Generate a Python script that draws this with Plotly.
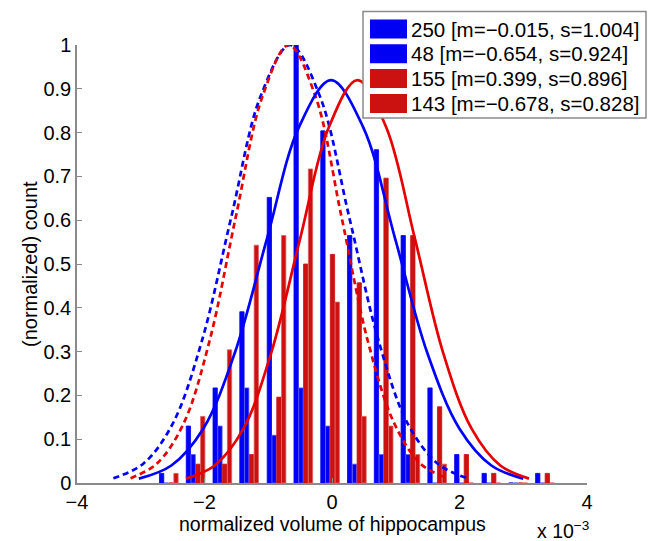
import plotly.graph_objects as go

# ---------------- data (x in units of 1e-3) ----------------
bin_centers = [-2.56, -2.14, -1.72, -1.30, -0.87, -0.45, -0.03, 0.39, 0.81, 1.23, 1.65, 2.07, 2.50, 2.92, 3.34]
h_250 = [0.022, 0.130, 0.217, 0.391, 0.652, 1.000, 0.804, 0.565, 0.761, 0.565, 0.217, 0.065, 0.022, 0.0, 0.022]
h_48 = [0.0, 0.065, 0.130, 0.217, 0.109, 0.217, 0.130, 0.043, 0.065, 0.065, 0.0, 0.0, 0.0, 0.0, 0.0]
h_155 = [0.0, 0.043, 0.043, 0.065, 0.196, 0.500, 0.522, 0.457, 0.696, 0.565, 0.174, 0.065, 0.022, 0.0, 0.022]
h_143 = [0.022, 0.152, 0.304, 0.543, 0.565, 0.717, 0.413, 0.152, 0.130, 0.065, 0.043, 0.0, 0.0, 0.0, 0.0]

# fitted curves
fit250_x = [-3.03, -2.52, -2.02, -1.52, -1.02, -0.52, -0.015, 0.49, 0.99, 1.49, 2.00, 2.50, 3.00]
fit250_y = [0.010, 0.040, 0.124, 0.299, 0.558, 0.812, 0.920, 0.812, 0.558, 0.299, 0.124, 0.040, 0.010]
fit48_x = [-3.43, -2.96, -2.50, -2.04, -1.58, -1.12, -0.654, -0.19, 0.27, 0.73, 1.19, 1.66, 2.12]
fit48_y = [0.011, 0.044, 0.135, 0.325, 0.607, 0.883, 1.000, 0.883, 0.607, 0.325, 0.135, 0.044, 0.011]
fit155_x = [-2.29, -1.84, -1.39, -0.95, -0.50, -0.05, 0.399, 0.85, 1.30, 1.74, 2.19, 2.64, 3.09]
fit155_y = [0.010, 0.040, 0.124, 0.299, 0.558, 0.812, 0.920, 0.812, 0.558, 0.299, 0.124, 0.040, 0.010]
fit143_x = [-3.16, -2.75, -2.33, -1.92, -1.51, -1.09, -0.678, -0.26, 0.15, 0.56, 0.98, 1.39, 1.81]
fit143_y = [0.011, 0.044, 0.135, 0.325, 0.607, 0.883, 1.000, 0.883, 0.607, 0.325, 0.135, 0.044, 0.011]

legend_labels = ["250 [m=\u22120.015, s=1.004]", "48 [m=\u22120.654, s=0.924]",
                 "155 [m=0.399, s=0.896]", "143 [m=\u22120.678, s=0.828]"]
x_ticks = [-4, -2, 0, 2, 4]
y_ticks = [0, 0.1, 0.2, 0.3, 0.4, 0.5, 0.6, 0.7, 0.8, 0.9, 1]
x_title = "normalized volume of hippocampus"
y_title = "(normalized) count"

BLUE = "#0000f5"
RED = "#cc1111"
BLUE_L = "#0000ff"
RED_L = "#e60000"
FONT = "Liberation Sans, Arial, sans-serif"

fig = go.Figure()
bar_specs = [(h_250, BLUE, BLUE), (h_48, BLUE, "#5a5aff"), (h_155, RED, RED), (h_143, RED, "#e06060")]
for h, c, lc in bar_specs:
    fig.add_trace(go.Bar(x=bin_centers, y=h, marker=dict(color=c, line=dict(color=lc, width=0.8)),
                         showlegend=False))

line_specs = [(fit48_x, fit48_y, BLUE_L, "6px,4px"), (fit143_x, fit143_y, RED_L, "6px,4px"),
              (fit250_x, fit250_y, BLUE_L, "solid"), (fit155_x, fit155_y, RED_L, "solid")]
for x, y, c, d in line_specs:
    fig.add_trace(go.Scatter(x=x, y=y, mode="lines", line=dict(color=c, width=2.7, dash=d, shape="spline"),
                             showlegend=False))

# plot area geometry (px)
L, R, T, B = 77, 63, 45, 58
W, H = 650, 541
PW, PH = W - L - R, H - T - B

def px_x(px):
    return (px - L) / PW

def px_y(py):
    return (H - B - py) / PH

shapes = []
annotations = []
# manual legend box
shapes.append(dict(type="rect", xref="paper", yref="paper", x0=px_x(363), x1=px_x(646),
                   y0=px_y(118), y1=px_y(11.5), line=dict(color="#8a8a8a", width=1.5),
                   fillcolor="white", layer="above"))
patch_cols = [BLUE, BLUE, RED, RED]
for i, (lab, pc) in enumerate(zip(legend_labels, patch_cols)):
    cy = 29 + 24.8 * i
    shapes.append(dict(type="rect", xref="paper", yref="paper", x0=px_x(370), x1=px_x(407),
                       y0=px_y(cy + 9.5), y1=px_y(cy - 9.5), line=dict(width=0),
                       fillcolor=pc, layer="above"))
    annotations.append(dict(xref="paper", yref="paper", x=px_x(409), y=px_y(cy), text=lab,
                            xanchor="left", yanchor="middle", showarrow=False,
                            font=dict(family=FONT, size=20.5, color="black")))

annotations.append(dict(xref="paper", yref="paper", x=px_x(591), y=px_y(530),
                        text="x 10<sup>\u22123</sup>", xanchor="right", yanchor="middle",
                        showarrow=False, font=dict(family=FONT, size=19.5, color="black")))
annotations.append(dict(xref="paper", yref="paper", x=0.5, y=px_y(523.5),
                        text=x_title, xanchor="center", yanchor="middle",
                        showarrow=False, font=dict(family=FONT, size=19.5, color="black")))
annotations.append(dict(xref="paper", yref="paper", x=px_x(30), y=0.5, textangle=-90,
                        text=y_title, xanchor="center", yanchor="middle",
                        showarrow=False, font=dict(family=FONT, size=20, color="black")))

axis_common = dict(showgrid=False, zeroline=False, showline=True, linecolor="#8a8a8a", linewidth=1.5,
                   ticks="inside", ticklen=5, tickcolor="#8a8a8a", tickwidth=1.2,
                   tickfont=dict(family=FONT, size=20, color="black"), mirror=False)

fig.update_layout(
    width=W, height=H,
    margin=dict(l=L, r=R, t=T, b=B, autoexpand=False),
    paper_bgcolor="white", plot_bgcolor="white",
    barmode="group", bargap=0.285, bargroupgap=0.1,
    xaxis=dict(range=[-4, 4], tickvals=x_ticks, **axis_common),
    yaxis=dict(range=[0, 1], tickvals=y_ticks, **axis_common),
    shapes=shapes, annotations=annotations,
)

fig.write_html("out.html", config={"displayModeBar": False},
               post_script="document.body.style.margin='0';document.body.style.overflow='hidden';")
